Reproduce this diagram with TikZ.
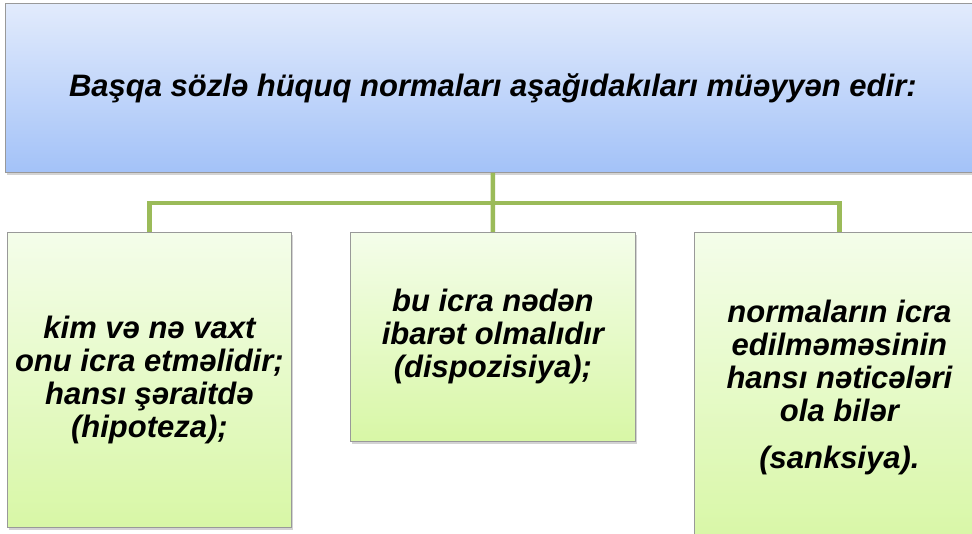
\documentclass[tikz,border=0pt]{standalone}
\usepackage{fontspec}
\setmainfont{Liberation Sans}
\usetikzlibrary{shadows}
\definecolor{linkgreen}{HTML}{9BBB59}
\definecolor{bluetop}{HTML}{E2EBFC}
\definecolor{bluebot}{HTML}{A3C2F8}
\definecolor{greentop}{HTML}{F4FDEA}
\definecolor{greenbot}{HTML}{D8F7A6}
\begin{document}
\begin{tikzpicture}[x=1pt,y=-1pt,
  box/.style={draw=gray!80,line width=0.8pt,anchor=north west,align=center,
    font=\fontsize{31}{33}\selectfont\bfseries\itshape,inner sep=0pt,
    drop shadow={opacity=0.35,shadow xshift=1.5pt,shadow yshift=-2.5pt}},
  head/.style={box,top color=bluetop,bottom color=bluebot},
  leaf/.style={box,top color=greentop,bottom color=greenbot},
  link/.style={draw=linkgreen,line width=4.5pt}]
\useasboundingbox (0,0) rectangle (972,533);
\begin{scope}
\clip (0,0) rectangle (972,533);
\node [head,minimum width=975pt,minimum height=169pt] (top) at (5,3)
  {Başqa sözlə hüquq normaları aşağıdakıları müəyyən edir:};
\node [leaf,minimum width=284pt,minimum height=295pt] (kim) at (7,232)
  {kim və nə vaxt\\onu icra etməlidir;\\hansı şəraitdə\\(hipoteza);};
\node [leaf,minimum width=285pt,minimum height=209pt] (bu) at (350,232)
  {bu icra nədən\\ibarət olmalıdır\\(dispozisiya);};
\node [leaf,minimum width=290pt,minimum height=310pt] (norm) at (694,232)
  {normaların icra\\edilməməsinin\\hansı nəticələri\\ola bilər\\[14pt](sanksiya).};
% connectors
\coordinate (bus) at (493,203);
\draw [link] (top.south) -- (bus);
\draw [link] (bus) -| (kim.north);
\draw [link] (bus) -| (norm.north);
\draw [link] (bus) -- (bu.north);
\end{scope}
\end{tikzpicture}
\end{document}
